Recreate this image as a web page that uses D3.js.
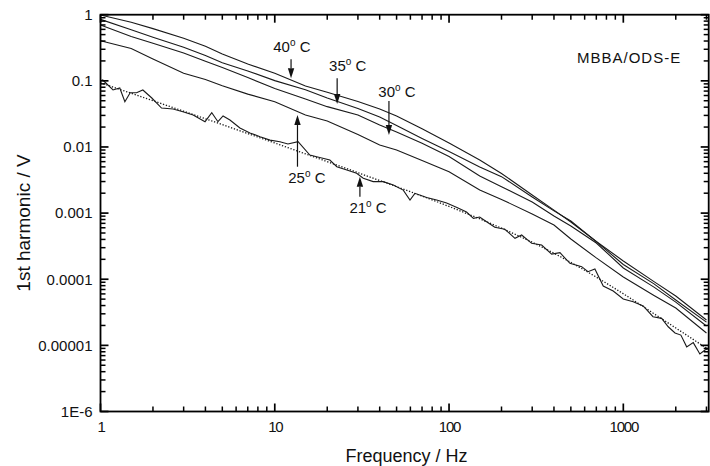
<!DOCTYPE html>
<html>
<head>
<meta charset="utf-8">
<script src="https://cdn.jsdelivr.net/npm/d3@7"></script>
<style>
  body { margin: 0; background: #fff; }
  svg text { font-family: Arial, "Liberation Sans", sans-serif; fill: #111; }
</style>
</head>
<body>
<svg id="chart" width="710" height="466"></svg>
<script>
// frequency grid shared by the four smooth curves (Hz)
var freqs = [1, 1.5, 2, 3, 4, 5, 7, 10, 15, 20, 30, 40, 50, 70, 100, 150, 200, 300, 400, 500, 700, 1000, 1500, 2000, 3000];
var v40 = [0.99, 0.767, 0.616, 0.44, 0.333, 0.255, 0.18, 0.13, 0.0835, 0.067, 0.0487, 0.0375, 0.0294, 0.0189, 0.0115, 0.00635, 0.00397, 0.00188, 0.00111, 0.000733, 0.000372, 0.000189, 9.2e-5, 5.57e-5, 2.42e-5];
var v35 = [0.85, 0.59, 0.455, 0.321, 0.242, 0.187, 0.141, 0.1007, 0.0731, 0.055, 0.0382, 0.0284, 0.0211, 0.01346, 0.00854, 0.00498, 0.00356, 0.00175, 0.00108, 0.00076, 0.00037, 0.000167, 8.5e-5, 4.85e-5, 2.25e-5];
var v30 = [0.70, 0.468, 0.37, 0.264, 0.198, 0.159, 0.112, 0.0766, 0.0531, 0.0407, 0.0304, 0.0215, 0.0168, 0.01135, 0.00718, 0.00363, 0.00251, 0.00147, 0.000904, 0.000638, 0.000353, 0.000148, 7.6e-5, 4.5e-5, 1.96e-5];
var v25 = [0.405, 0.308, 0.214, 0.13, 0.105, 0.084, 0.063, 0.0483, 0.0304, 0.0247, 0.0154, 0.0107, 0.009, 0.00626, 0.00423, 0.00223, 0.00161, 0.00097, 0.00066, 0.000406, 0.00021, 0.000108, 5.68e-5, 3.67e-5, 1.54e-5];

// 21 C is measured on a denser, noisier grid
var freq21 = [1, 1.03, 1.18, 1.29, 1.38, 1.48, 1.61, 1.75, 1.97, 2.24, 2.61, 2.97, 3.4, 3.98, 4.35, 4.72, 5.05, 5.53, 6.31, 7.2, 8.23, 9.39, 10.7, 11.9, 13.6, 15.9, 17.4, 20.7, 22.7, 25.9, 29.5, 32.2, 36.7, 41.9, 47.9, 54.6, 59.7, 63.7, 74.4, 84.9, 96.9, 111, 126, 138, 150, 161, 183, 209, 239, 261, 298, 340, 388, 433, 494, 577, 627, 687, 767, 875, 999, 1140, 1300, 1480, 1660, 1810, 1980, 2140, 2310, 2520, 2750, 2940, 3140];
var v21 = [0.1005, 0.103, 0.0727, 0.078, 0.0483, 0.0662, 0.0662, 0.0727, 0.055, 0.0388, 0.0375, 0.0341, 0.0304, 0.0241, 0.033, 0.0241, 0.0294, 0.0256, 0.0194, 0.0163, 0.0143, 0.0127, 0.012, 0.0111, 0.012, 0.00755, 0.00713, 0.00635, 0.00503, 0.00449, 0.004, 0.00336, 0.00299, 0.00299, 0.00266, 0.00223, 0.00158, 0.00199, 0.00172, 0.00158, 0.00142, 0.00122, 0.00104, 0.000834, 0.000873, 0.000767, 0.00061, 0.000569, 0.000416, 0.000467, 0.000349, 0.000329, 0.00024, 0.000252, 0.000174, 0.000155, 0.00013, 0.000143, 7.9e-5, 6.63e-5, 5.02e-5, 4.57e-5, 3.94e-5, 2.71e-5, 2.56e-5, 1.91e-5, 1.54e-5, 1.43e-5, 9.5e-6, 1.1e-5, 7.4e-6, 8.5e-6, 9.1e-6];

// dotted fit through the 21 C data
var fitFreq = [1, 3.16, 10, 31.6, 100, 178, 316, 562, 1000, 1780, 3160];
var fitV = [0.0933, 0.0331, 0.01148, 0.00389, 0.00126, 0.000676, 0.000339, 0.000151, 6.03e-5, 2.24e-5, 8.3e-6];

var xMajor = [1, 10, 100, 1000];
var xTickLabels = ["1", "10", "100", "1000"];
var yMajor = [1, 0.1, 0.01, 0.001, 0.0001, 0.00001, 0.000001];
var yTickLabels = ["1", "0.1", "0.01", "0.001", "0.0001", "0.00001", "1E-6"];

// temperature labels: text anchor (freq, value), arrow at freq from tail value to tip value
var labelTemps = ["40", "35", "30", "25", "21"];
var labelFreq = [9.8, 20.5, 39.3, 11.95, 26.8];
var labelV = [0.27, 0.142, 0.0575, 0.00288, 0.000993];
var arrowFreq = [12.4, 22.8, 45.2, 13.5, 30.8];
var arrowTail = [0.212, 0.109, 0.0495, 0.00503, 0.00177];
var arrowTip = [0.109, 0.0446, 0.0152, 0.0304, 0.00355];

(function() {
    var svg = d3.select("#chart");
    var pLeft = 100.5, pRight = 708.7, pTop = 14.7, pBottom = 411.5;

    var x = d3.scaleLog().domain([1, 3090]).range([pLeft, pRight]);
    var y = d3.scaleLog().domain([1e-6, 1]).range([pBottom, pTop]);

    function minors(lo, hi) {
        var out = [];
        for (var e = Math.floor(Math.log10(lo)); e <= Math.ceil(Math.log10(hi)); e++) {
            for (var m = 2; m <= 9; m++) {
                var v = m * Math.pow(10, e);
                if (v > lo * 1.0001 && v < hi * 0.9999) out.push(v);
            }
        }
        return out;
    }
    var xMinor = minors(1, 3090);
    var yMinor = minors(1e-6, 1);

    svg.append("defs").append("clipPath").attr("id", "plotclip")
        .append("rect")
        .attr("x", pLeft).attr("y", pTop)
        .attr("width", pRight - pLeft).attr("height", pBottom - pTop);

    // tick labels through d3 axes (no tick lines of their own)
    var gx = svg.append("g").attr("transform", "translate(0," + pBottom + ")")
        .call(d3.axisBottom(x).tickValues(xMajor).tickSize(0)
            .tickFormat(function(d, i) { return xTickLabels[i]; }));
    gx.select(".domain").remove();
    gx.selectAll("text")
        .attr("y", 20).attr("dy", 0)
        .attr("font-family", null).attr("fill", "#111")
        .style("font-size", "15px")
        .style("letter-spacing", "-1.2px");

    var gy = svg.append("g").attr("transform", "translate(" + pLeft + ",0)")
        .call(d3.axisLeft(y).tickValues(yMajor).tickSize(0).tickPadding(8)
            .tickFormat(function(d, i) { return yTickLabels[i]; }));
    gy.select(".domain").remove();
    gy.selectAll("text")
        .attr("font-family", null).attr("fill", "#111")
        .style("font-size", "15px");

    // curves
    var line = d3.line()
        .x(function(d) { return x(d[0]); })
        .y(function(d) { return y(d[1]); });

    var plot = svg.append("g").attr("clip-path", "url(#plotclip)");

    [v40, v35, v30, v25].forEach(function(vals) {
        plot.append("path")
            .datum(d3.zip(freqs, vals))
            .attr("fill", "none")
            .attr("stroke", "#1a1a1a")
            .attr("stroke-width", 1.1)
            .attr("d", line);
    });

    plot.append("path")
        .datum(d3.zip(freq21, v21))
        .attr("fill", "none")
        .attr("stroke", "#1a1a1a")
        .attr("stroke-width", 1.1)
        .attr("d", line);

    plot.append("path")
        .datum(d3.zip(fitFreq, fitV))
        .attr("fill", "none")
        .attr("stroke", "#1a1a1a")
        .attr("stroke-width", 1.3)
        .attr("stroke-dasharray", "1.3,1.7")
        .attr("d", line.curve(d3.curveMonotoneX));

    // temperature labels and arrows
    labelTemps.forEach(function(t, i) {
        var txt = svg.append("text")
            .attr("x", x(labelFreq[i]))
            .attr("y", y(labelV[i]))
            .style("font-size", "15px");
        txt.append("tspan").text(t);
        txt.append("tspan").attr("dy", -6).style("font-size", "10px").text("o");
        txt.append("tspan").attr("dy", 6).text(" C");

        var ax = x(arrowFreq[i]);
        var yTail = y(arrowTail[i]);
        var yTip = y(arrowTip[i]);
        var dir = yTip > yTail ? 1 : -1;
        var headLen = 10, headW = 3.2;
        svg.append("line")
            .attr("x1", ax).attr("x2", ax)
            .attr("y1", yTail).attr("y2", yTip - dir * headLen)
            .attr("stroke", "#111")
            .attr("stroke-width", 1.2);
        svg.append("path")
            .attr("d", "M" + ax + "," + yTip +
                "L" + (ax - headW) + "," + (yTip - dir * headLen) +
                "L" + (ax + headW) + "," + (yTip - dir * headLen) + "Z")
            .attr("fill", "#111");
    });

    svg.append("text")
        .attr("x", x(542))
        .attr("y", y(0.184))
        .style("font-size", "15px")
        .style("letter-spacing", "1px")
        .text("MBBA/ODS-E");

    // axis titles
    svg.append("text")
        .attr("x", (pLeft + pRight) / 2 + 2)
        .attr("y", 462)
        .attr("text-anchor", "middle")
        .style("font-size", "18px")
        .text("Frequency / Hz");

    svg.append("text")
        .attr("transform", "translate(30,223) rotate(-90)")
        .attr("text-anchor", "middle")
        .style("font-size", "19px")
        .text("1st harmonic / V");

    // frame and tick marks on all four sides, pointing inward, drawn last
    var ticks = svg.append("g").attr("stroke", "#000");

    function xTicks(vals, len, width) {
        [[pBottom, -1], [pTop, 1]].forEach(function(s) {
            ticks.selectAll(null).data(vals).enter().append("line")
                .attr("x1", function(d) { return x(d); })
                .attr("x2", function(d) { return x(d); })
                .attr("y1", s[0]).attr("y2", s[0] + s[1] * len)
                .attr("stroke-width", width);
        });
    }
    function yTicks(vals, len, width) {
        [[pLeft, 1], [pRight, -1]].forEach(function(s) {
            ticks.selectAll(null).data(vals).enter().append("line")
                .attr("y1", function(d) { return y(d); })
                .attr("y2", function(d) { return y(d); })
                .attr("x1", s[0]).attr("x2", s[0] + s[1] * len)
                .attr("stroke-width", width);
        });
    }
    xTicks(xMinor, 5, 1.5);
    xTicks(xMajor, 8, 1.7);
    yTicks(yMinor, 5, 1.5);
    yTicks(yMajor, 8, 1.7);

    svg.append("rect")
        .attr("x", pLeft).attr("y", pTop)
        .attr("width", pRight - pLeft).attr("height", pBottom - pTop)
        .attr("fill", "none")
        .attr("stroke", "#000")
        .attr("stroke-width", 1.8);
})();
</script>
</body>
</html>
